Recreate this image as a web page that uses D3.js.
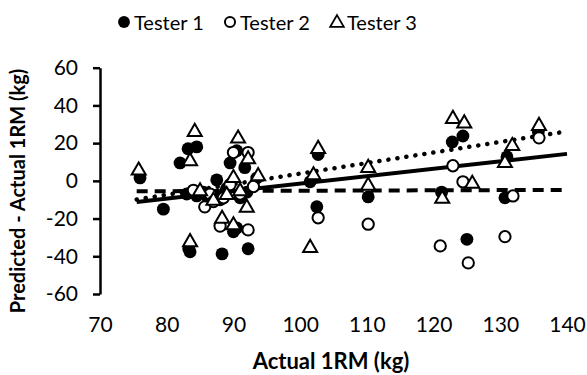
<!DOCTYPE html>
<html>
<head>
<meta charset="utf-8">
<script src="https://cdn.jsdelivr.net/npm/d3@7"></script>
<style>
  body { margin: 0; background: #fff; }
  svg { font-family: Lato, "Open Sans", sans-serif; }
</style>
</head>
<body>
<div id="chart"></div>
<script>
// Actual 1RM (kg) and predicted - actual (kg)
const tester1X = [76, 79.5, 82, 83.2, 84.5, 83.5, 83.3, 83, 84.5, 85.5, 86, 86.8, 87.5, 88, 88.3, 88.8, 89, 89.5, 90.5, 90, 90.5, 91, 91.7, 92.2, 92, 93.5, 101.5, 102.7, 102.5, 110.2, 121.2, 122.8, 124.4, 125, 130.7, 131, 135.7];
const tester1Y = [1.6, -15, 9.5, 17, 18, -37.6, -36, -7, -8, -6, -8, -9, 0.5, -10, -38.7, -6, -4, 9.5, 16, -27, -25, -9, 7, -36, -6, 1.5, -0.5, 14, -13.7, -8.5, -6, 20.6, 23.8, -31, -9, 12.7, 26];

const tester2X = [84, 85.7, 86.5, 87, 88, 88.5, 89.5, 90, 91, 92.2, 92.2, 93, 102.7, 110.2, 121, 122.9, 124.4, 125.2, 130.7, 131.9, 135.8];
const tester2Y = [-5, -13.8, -7, -11, -24, -9, -2, 15, -7, 15, -26, -3, -19.6, -23, -34.5, 8, -0.5, -43.5, -29.6, -8, 22.8];

const tester3X = [75.8, 83.5, 84.2, 83.5, 85, 87, 88.3, 89, 90, 90, 90.7, 92.2, 92, 93.7, 91, 101.5, 102.7, 102, 110.2, 110.2, 121.3, 122.9, 124.6, 125.8, 130.7, 131.8, 135.8];
const tester3Y = [6, 11, 26.5, -32, -5, -10, -19.6, -7, 2, -23, 23, 12, -13.7, 3, -5, -35, 17.5, 3.5, 7.4, -2, -9, 33.4, 31, -1, 10, 19, 29.7];

// linear trend lines (slope, intercept) for testers 1, 2, 3
const trendSlope = [0.395, 0.011, 0.56];
const trendIntercept = [-41.0, -6.34, -52.16];
const trendRange = [75.5, 140];

const seriesNames = ['Tester 1', 'Tester 2', 'Tester 3'];
const xTicks = [70, 80, 90, 100, 110, 120, 130, 140];
const yTicks = [-60, -40, -20, 0, 20, 40, 60];

const W = 587, H = 375;
const svg = d3.select('#chart').append('svg')
  .attr('width', W).attr('height', H);

const x = d3.scaleLinear().domain([70, 140]).range([100, 567]);
const y = d3.scaleLinear().domain([-60, 60]).range([294, 67.7]);

// Y axis
const yAxis = svg.append('g')
  .attr('transform', 'translate(100,0)')
  .call(d3.axisLeft(y).tickValues(yTicks).tickFormat(d => String(d))
    .tickSize(7).tickSizeOuter(0).tickPadding(15));
yAxis.select('.domain').attr('stroke', '#000').attr('stroke-width', 2.5);
yAxis.selectAll('.tick line').attr('stroke', '#000').attr('stroke-width', 2.5);
yAxis.selectAll('text').attr('font-size', 21).attr('fill', '#000')
  .attr('font-family', 'Lato, sans-serif');

// X axis (labels only)
const xAxis = svg.append('g')
  .attr('transform', 'translate(0,313)')
  .call(d3.axisBottom(x).tickValues(xTicks).tickSize(0).tickPadding(4));
xAxis.select('.domain').remove();
xAxis.selectAll('text').attr('font-size', 21).attr('fill', '#000')
  .attr('font-family', 'Lato, sans-serif');

// Axis titles
svg.append('text')
  .attr('x', 331).attr('y', 369)
  .attr('text-anchor', 'middle')
  .attr('font-size', 22).attr('font-weight', 'bold')
  .text('Actual 1RM (kg)');

svg.append('text')
  .attr('transform', 'translate(25,191) rotate(-90)')
  .attr('text-anchor', 'middle')
  .attr('font-size', 20).attr('font-weight', 'bold')
  .text('Predicted - Actual 1RM (kg)');

// Trend lines
const dashes = [null, '11,7', '0.1,9'];
const caps = ['butt', 'butt', 'round'];
trendSlope.forEach((m, i) => {
  svg.append('line')
    .attr('x1', x(trendRange[0])).attr('y1', y(m * trendRange[0] + trendIntercept[i]))
    .attr('x2', x(trendRange[1])).attr('y2', y(m * trendRange[1] + trendIntercept[i]))
    .attr('stroke', '#000')
    .attr('stroke-width', i === 2 ? 4.5 : 4)
    .attr('stroke-dasharray', dashes[i])
    .attr('stroke-linecap', caps[i]);
});

// Markers
const circle = d3.symbol().type(d3.symbolCircle).size(130);
const openCircle = d3.symbol().type(d3.symbolCircle).size(100);
const tri = d3.symbol().type(d3.symbolTriangle).size(85);

svg.append('g').selectAll('path')
  .data(d3.zip(tester1X, tester1Y))
  .enter().append('path')
  .attr('d', circle)
  .attr('transform', d => `translate(${x(d[0])},${y(d[1])})`)
  .attr('fill', '#000');

svg.append('g').selectAll('path')
  .data(d3.zip(tester2X, tester2Y))
  .enter().append('path')
  .attr('d', openCircle)
  .attr('transform', d => `translate(${x(d[0])},${y(d[1])})`)
  .attr('fill', '#fff').attr('stroke', '#000').attr('stroke-width', 2);

svg.append('g').selectAll('path')
  .data(d3.zip(tester3X, tester3Y))
  .enter().append('path')
  .attr('d', tri)
  .attr('transform', d => `translate(${x(d[0])},${y(d[1]) + 1})`)
  .attr('fill', '#fff').attr('stroke', '#000').attr('stroke-width', 2)
  .attr('stroke-linejoin', 'miter');

// Legend
const legendX = [124, 230, 337];
const legend = svg.append('g').attr('transform', 'translate(0,22)');
seriesNames.forEach((name, i) => {
  const g = legend.append('g').attr('transform', `translate(${legendX[i]},0)`);
  if (i === 0) {
    g.append('path').attr('d', d3.symbol().type(d3.symbolCircle).size(110)).attr('fill', '#000');
  } else if (i === 1) {
    g.append('path').attr('d', d3.symbol().type(d3.symbolCircle).size(80))
      .attr('fill', 'none').attr('stroke', '#000').attr('stroke-width', 2);
  } else {
    g.append('path').attr('d', d3.symbol().type(d3.symbolTriangle).size(80))
      .attr('transform', 'translate(0,1)')
      .attr('fill', 'none').attr('stroke', '#000').attr('stroke-width', 1.8);
  }
  g.append('text')
    .attr('x', 10).attr('y', 8)
    .attr('font-size', 20)
    .text(name);
});
</script>
</body>
</html>
